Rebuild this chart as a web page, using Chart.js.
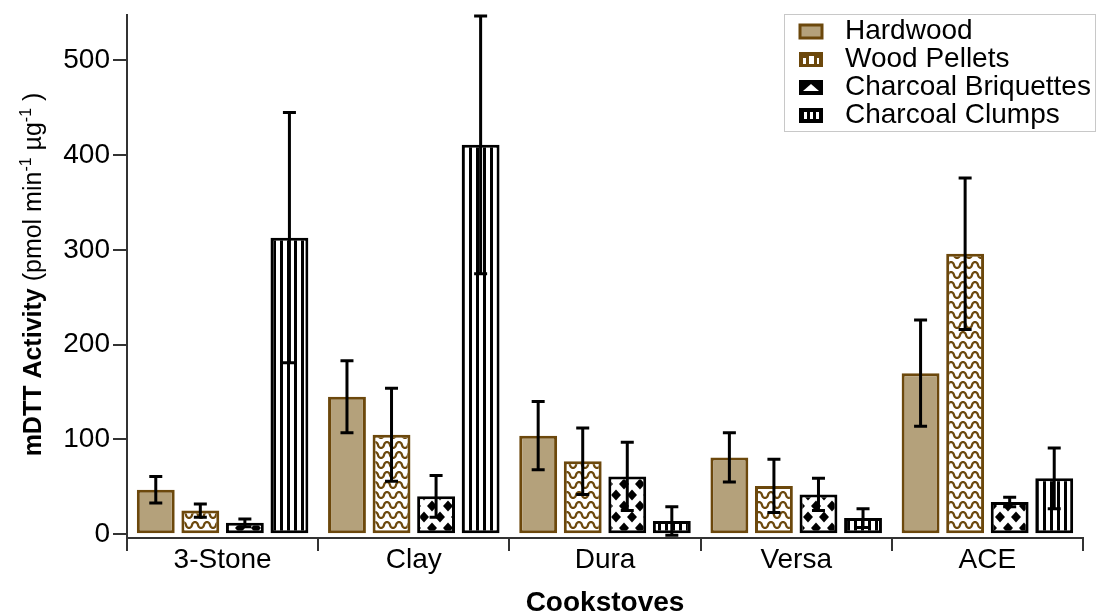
<!DOCTYPE html>
<html>
<head>
<meta charset="utf-8">
<script src="https://cdn.jsdelivr.net/npm/chart.js@4.4.0/dist/chart.umd.min.js"></script>
<style>
  body{margin:0;background:#fff}
  canvas{display:block}
</style>
</head>
<body>
<canvas id="ShowChart" width="1097" height="616"></canvas>
<script>
var Stoves = ["3-Stone", "Clay", "Dura", "Versa", "ACE"]
var Fuel_Labels = ["Hardwood", "Wood Pellets", "Charcoal Briquettes", "Charcoal Clumps"]
var Hardwood = [47, 145, 104, 81, 170]
var Hardwood_Err = [14, 38, 36, 26, 56]
var Pellets = [25, 105, 77, 51, 296]
var Pellets_Err = [7, 49, 35, 28, 80]
var Briquettes = [12, 40, 61, 42, 34]
var Briquettes_Err = [4, 22, 36, 17, 5]
var Clumps = [313, 411, 14, 17, 59]
var Clumps_Err = [132, 136, 15, 10, 32]
var Y_Ticks = [0, 100, 200, 300, 400, 500]

var FONT = "'Liberation Sans', Arial, Helvetica, sans-serif"
var BROWN = "rgb(108, 72, 12)"
var TAN = "rgb(180, 161, 123)"

function Make_Pattern(kind){
  var c = document.createElement("canvas"), g = c.getContext("2d")
  if (kind == "wave"){
    c.width = 12; c.height = 10
    g.fillStyle = "#fff"; g.fillRect(0, 0, 12, 10)
    g.strokeStyle = BROWN; g.lineWidth = 2.2
    g.beginPath()
    for (var x = -1; x <= 13; x += 0.5){
      var s = Math.sin(2 * Math.PI * x / 12)
      var y = 5 - 3 * (s < 0 ? -1 : 1) * Math.pow(Math.abs(s), 0.6)
      if (x == -1) g.moveTo(x, y); else g.lineTo(x, y)
    }
    g.stroke()
  }else if (kind == "diamond"){
    c.width = 16; c.height = 22
    g.fillStyle = "#fff"; g.fillRect(0, 0, 16, 22)
    g.fillStyle = "#000"
    var centers = [[0, 0], [16, 0], [0, 22], [16, 22], [8, 11]]
    for (var i = 0; i < centers.length; i++){
      var cx = centers[i][0], cy = centers[i][1]
      g.beginPath()
      g.moveTo(cx, cy - 5.5); g.lineTo(cx + 5, cy); g.lineTo(cx, cy + 5.5); g.lineTo(cx - 5, cy)
      g.closePath(); g.fill()
    }
  }else{
    c.width = 6.5; c.height = 4
    c.width = 7
    g.fillStyle = "#fff"; g.fillRect(0, 0, 7, 4)
    g.fillStyle = "#000"; g.fillRect(0, 0, 3, 4)
  }
  return g.createPattern(c, "repeat")
}

var ctx = document.getElementById("ShowChart").getContext("2d")

function Make_Dataset(label, data, errors, fill, border){
  return {
    label: label,
    data: data,
    errors: errors,
    backgroundColor: fill,
    borderColor: border,
    borderWidth: 3,
    borderSkipped: false,
    categoryPercentage: 0.932,
    barPercentage: 0.85
  }
}

var Dataset = [
  Make_Dataset(Fuel_Labels[0], Hardwood, Hardwood_Err, TAN, BROWN),
  Make_Dataset(Fuel_Labels[1], Pellets, Pellets_Err, Make_Pattern("wave"), BROWN),
  Make_Dataset(Fuel_Labels[2], Briquettes, Briquettes_Err, Make_Pattern("diamond"), "#000"),
  Make_Dataset(Fuel_Labels[3], Clumps, Clumps_Err, Make_Pattern("lines"), "#000")
]

// error bars, drawn on top of the bars
var Error_Bars = {
  id: "errorbars",
  afterDatasetsDraw: function(chart){
    var g = chart.ctx, y = chart.scales.y
    g.save()
    g.strokeStyle = "#000"
    g.lineWidth = 3
    chart.data.datasets.forEach(function(ds, d){
      var meta = chart.getDatasetMeta(d)
      meta.data.forEach(function(bar, i){
        var v = ds.data[i], e = ds.errors[i]
        var top = y.getPixelForValue(v + e), bot = y.getPixelForValue(v - e)
        g.beginPath()
        g.moveTo(bar.x, top); g.lineTo(bar.x, bot)
        g.moveTo(bar.x - 6.5, top); g.lineTo(bar.x + 6.5, top)
        g.moveTo(bar.x - 6.5, bot); g.lineTo(bar.x + 6.5, bot)
        g.stroke()
      })
    })
    g.restore()
  }
}

function Draw_Swatch(g, i, x, y, w, h){
  if (i == 0){
    g.fillStyle = TAN; g.fillRect(x, y, w, h)
    g.strokeStyle = BROWN; g.lineWidth = 3; g.strokeRect(x, y, w, h)
  }else if (i == 1){
    g.fillStyle = BROWN; g.fillRect(x - 1, y - 1, w + 2, h + 2)
    g.fillStyle = "#fff"
    g.fillRect(x + 3, y + 5, 3, 6)
    g.fillRect(x + 9, y + 3, 5, 8)
    g.fillRect(x + 17, y + 5, 2, 6)
  }else if (i == 2){
    g.fillStyle = "#000"; g.fillRect(x - 1, y - 1, w + 2, h + 2)
    g.fillStyle = "#fff"
    g.beginPath()
    g.moveTo(x + 3, y + h - 3); g.lineTo(x + w / 2, y + 3); g.lineTo(x + w - 3, y + h - 3)
    g.closePath(); g.fill()
  }else{
    g.fillStyle = "#000"; g.fillRect(x - 1, y - 1, w + 2, h + 2)
    g.fillStyle = "#fff"
    for (var k = 0; k < 3; k++){ g.fillRect(x + 4 + k * 6, y + 3, 3, h - 6) }
  }
}

var Legend_And_Titles = {
  id: "legendtitles",
  afterDraw: function(chart){
    var g = chart.ctx, area = chart.chartArea
    g.save()
    // legend box
    g.strokeStyle = "#c8c8c8"; g.lineWidth = 1
    g.strokeRect(784.5, 14.5, 311, 117)
    g.font = "28px " + FONT
    g.textBaseline = "middle"
    g.textAlign = "left"
    for (var i = 0; i < Fuel_Labels.length; i++){
      var cy = 31 + i * 28
      Draw_Swatch(g, i, 800, cy - 6, 22, 13)
      g.fillStyle = "#000"
      g.fillText(Fuel_Labels[i], 845, cy)
    }
    // x title
    g.font = "bold 28px " + FONT
    g.textAlign = "center"
    g.fillText("Cookstoves", (area.left + area.right) / 2, 603)
    // y title with mixed weights and superscripts
    var parts = [
      ["bold 25px ", "mDTT Activity", 0],
      ["25px ", " (pmol min", 0],
      ["16px ", "-1", -10],
      ["25px ", " \u00b5g", 0],
      ["16px ", "-1", -10],
      ["25px ", " )", 0]
    ]
    var total = 0
    parts.forEach(function(p){ g.font = p[0] + FONT; total += g.measureText(p[1]).width })
    g.translate(41, (area.top + area.bottom) / 2 - 2)
    g.rotate(-Math.PI / 2)
    g.textAlign = "left"
    g.textBaseline = "alphabetic"
    var px = -total / 2
    parts.forEach(function(p){
      g.font = p[0] + FONT
      g.fillText(p[1], px, p[2])
      px += g.measureText(p[1]).width
    })
    g.restore()
  }
}

var Show_Chart = {
  type: "bar",
  data: {
    labels: Stoves,
    datasets: Dataset
  },
  options: {
    responsive: false,
    animation: false,
    layout: {padding: {left: 0, right: 14, top: 15, bottom: 0}},
    plugins: {
      legend: {display: false},
      tooltip: {enabled: false}
    },
    scales: {
      x: {
        grid: {offset: true, drawOnChartArea: false, drawTicks: true, tickLength: 13, color: "#333", lineWidth: 2},
        border: {color: "#333", width: 2},
        ticks: {color: "#000", font: {size: 28, family: FONT}, padding: -8},
        afterFit: function(s){ s.height = 78; s.paddingLeft = 0; s.paddingRight = 0 }
      },
      y: {
        min: -4,
        max: 548,
        grid: {drawOnChartArea: false, tickLength: 14, color: "#333", lineWidth: 2},
        border: {color: "#333", width: 2},
        ticks: {color: "#000", font: {size: 28, family: FONT}, padding: 3},
        afterBuildTicks: function(s){ s.ticks = Y_Ticks.map(function(v){ return {value: v} }) },
        afterFit: function(s){ s.width = 127; s.paddingTop = 0; s.paddingBottom = 0 }
      }
    }
  },
  plugins: [Error_Bars, Legend_And_Titles]
}

var ChartObject = new Chart(ctx, Show_Chart)
</script>
</body>
</html>
